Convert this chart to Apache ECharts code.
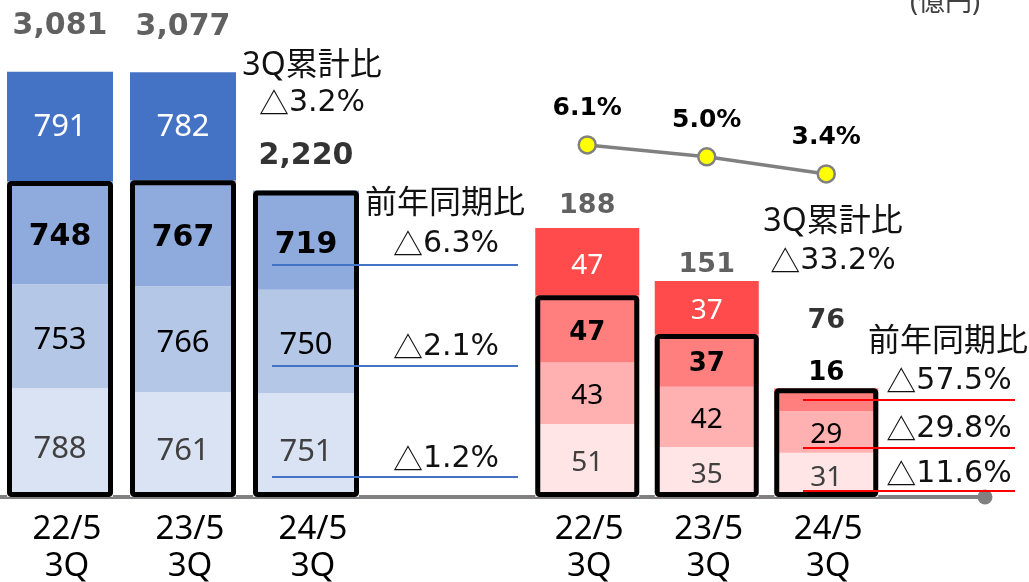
<!DOCTYPE html>
<html>
<head>
<meta charset="utf-8">
<script src="https://cdn.jsdelivr.net/npm/echarts@6/dist/echarts.min.js"></script>
<style>
  html, body { margin: 0; padding: 0; background: #fff; }
  #chart { width: 1029px; height: 582px; }
</style>
</head>
<body>
<div id="chart"></div>
<script>
// data (億円)
var categories = ['22/5\n3Q', '23/5\n3Q', '24/5\n3Q'];
var salesQ1 = [788, 761, 751];
var salesQ2 = [753, 766, 750];
var salesQ3 = [748, 767, 719];
var salesQ4 = [791, 782, null];
var salesTotal = [3081, 3077, 2220];
var profitQ1 = [51, 35, 31];
var profitQ2 = [43, 42, 29];
var profitQ3 = [47, 37, 16];
var profitQ4 = [47, 37, null];
var profitTotal = [188, 151, 76];
var margin = [6.1, 5.0, 3.4];

var FONT = '"Noto Sans", "Noto Sans CJK JP", sans-serif';
var BOLD = '"DejaVu Sans", "Noto Sans CJK JP", sans-serif';
var CJK = '"Noto Sans CJK JP", sans-serif';

var sum3 = function(a, b, c) {
  return a.map(function(v, i) { return v + b[i] + c[i]; });
};

var segLabel = function(color, size, bold, dy) {
  return {
    show: true,
    position: 'inside',
    offset: [0, dy],
    color: color,
    fontSize: size,
    fontFamily: bold ? BOLD : FONT,
    fontWeight: bold ? 'bold' : 'normal'
  };
};

var stackBar = function(name, stack, data, color, label, xi, yi, width) {
  return {
    name: name, type: 'bar', stack: stack, data: data,
    xAxisIndex: xi, yAxisIndex: yi, barWidth: width, barGap: '-100%',
    itemStyle: { color: color }, label: label, silent: true
  };
};

var outlineBar = function(data, xi, yi, width) {
  return {
    type: 'bar', data: data, xAxisIndex: xi, yAxisIndex: yi,
    barWidth: width, barGap: '-100%', z: 3, silent: true,
    itemStyle: { color: 'rgba(0,0,0,0)', borderColor: '#000', borderWidth: 5, borderRadius: 2 }
  };
};

var totalLabels = function(values, dy, colors, size, xi, yi) {
  return {
    type: 'scatter', xAxisIndex: xi, yAxisIndex: yi, symbolSize: 1, z: 4, silent: true,
    itemStyle: { color: 'rgba(0,0,0,0)' },
    data: values.map(function(v, i) {
      return { value: v, label: { offset: [0, dy[i]], color: colors[i] } };
    }),
    label: {
      show: true, position: 'inside', fontSize: size, fontFamily: BOLD, fontWeight: 'bold',
      formatter: function(p) { return p.value.toLocaleString('en-US'); }
    }
  };
};

var note = function(text, x, y, size, color) {
  return {
    type: 'text', x: x, y: y, z: 10, silent: true,
    style: {
      text: text, fill: color || '#111', font: 'normal ' + (size || 32) + 'px ' + FONT,
      align: 'center', verticalAlign: 'middle'
    }
  };
};

// "△x.x%" lines: triangle from the CJK font, figures in a wide sans
var delta = function(text, x, y) {
  return {
    type: 'text', x: x, y: y, z: 10, silent: true,
    style: {
      text: '{t|△}{n|' + text + '}', align: 'center', verticalAlign: 'middle',
      rich: {
        t: { fontFamily: CJK, fontSize: 30, fill: '#111' },
        n: { fontFamily: '"DejaVu Sans", sans-serif', fontSize: 30, fill: '#111' }
      }
    }
  };
};

var rule = function(x1, x2, y, color, w) {
  return {
    type: 'line', z: 10, silent: true,
    shape: { x1: x1, y1: y, x2: x2, y2: y },
    style: { stroke: color, lineWidth: w }
  };
};

var chart = echarts.init(document.getElementById('chart'));

var catAxis = function(gi, pad) {
  return {
    type: 'category', gridIndex: gi, data: categories,
    axisLine: { show: false }, axisTick: { show: false },
    axisLabel: {
      color: '#000', fontSize: 33, lineHeight: 37, margin: 14, fontFamily: FONT,
      padding: [0, 0, 0, pad]
    }
  };
};

var option = {
  animation: false,
  backgroundColor: '#fff',
  grid: [
    { left: -1.5, width: 369, top: 0, height: 497, outerBoundsMode: 'none' },
    { left: 527.5, width: 358.5, top: 10.5, height: 486.5, outerBoundsMode: 'none' },
    { left: 0, right: 44, top: 0, height: 497, outerBoundsMode: 'none' }
  ],
  xAxis: [
    catAxis(0, 14),
    catAxis(1, 4),
    {
      type: 'value', gridIndex: 2, min: 0, max: 1, position: 'bottom',
      axisLine: {
        show: true, onZero: false, symbol: ['none', 'circle'], symbolSize: [15, 15],
        lineStyle: { color: '#808080', width: 4 }
      },
      axisTick: { show: false }, axisLabel: { show: false }, splitLine: { show: false }
    }
  ],
  yAxis: [
    { type: 'value', gridIndex: 0, min: 0, max: 3600, show: false },
    { type: 'value', gridIndex: 1, min: 0, max: 340, show: false },
    { type: 'value', gridIndex: 1, min: -26.68, max: 18.62, show: false },
    { type: 'value', gridIndex: 2, min: 0, max: 1, show: false }
  ],
  series: [
    stackBar('1Q', 'sales', salesQ1, '#DAE3F3', segLabel('#404040', 31, false, 7), 0, 0, 106),
    stackBar('2Q', 'sales', salesQ2, '#B4C7E7', segLabel('#000', 31, false, 4), 0, 0, 106),
    stackBar('3Q', 'sales', salesQ3, '#8FAADC', segLabel('#000', 30, true, 5), 0, 0, 106),
    stackBar('4Q', 'sales', salesQ4, '#4472C4', segLabel('#fff', 31, false, 1), 0, 0, 106),
    outlineBar(sum3(salesQ1, salesQ2, salesQ3), 0, 0, 106),
    totalLabels(salesTotal, [-45, -45, -34], ['#3a3a3a', '#3a3a3a', '#000'], 30, 0, 0),

    stackBar('1Q', 'profit', profitQ1, '#FFE5E5', segLabel('#404040', 28, false, 3), 1, 1, 104),
    stackBar('2Q', 'profit', profitQ2, '#FFB1B1', segLabel('#000', 28, false, 3), 1, 1, 104),
    stackBar('3Q', 'profit', profitQ3.map(function(v, i) {
      // the last segment is too thin, its label sits on top
      return i === 2 ? { value: v, label: { position: 'top', distance: 2, offset: [0, 0] } } : v;
    }), '#FF7F7F', segLabel('#000', 26, true, 4), 1, 1, 104),
    stackBar('4Q', 'profit', profitQ4, '#FF4B4B', segLabel('#fff', 28, false, 4), 1, 1, 104),
    outlineBar(sum3(profitQ1, profitQ2, profitQ3), 1, 1, 104),
    totalLabels(profitTotal, [-22, -16, -67], ['#3a3a3a', '#3a3a3a', '#000'], 27, 1, 1),

    {
      type: 'line', data: margin, xAxisIndex: 1, yAxisIndex: 2, z: 5, silent: true,
      symbol: 'circle', symbolSize: 17,
      lineStyle: { color: '#808080', width: 3.5 },
      itemStyle: { color: '#FFFF00', borderColor: '#808080', borderWidth: 2.5 },
      label: {
        show: true, position: 'top', distance: 14, color: '#000',
        fontSize: 25, fontFamily: BOLD, fontWeight: 'bold',
        formatter: function(p) { return p.value.toFixed(1) + '%'; }
      }
    },
    { type: 'line', data: [], xAxisIndex: 2, yAxisIndex: 3 }
  ],
  graphic: [
    note('3Q累計比', 312, 66),
    delta('3.2%', 312, 103),
    note('前年同期比', 445, 204),
    delta('6.3%', 446, 244),
    delta('2.1%', 446, 347),
    delta('1.2%', 446, 459),
    rule(272, 518, 265, '#4472C4', 2),
    rule(272, 518, 366, '#4472C4', 2),
    rule(272, 518, 477, '#4472C4', 2),

    note('3Q累計比', 833, 222),
    delta('33.2%', 833, 261),
    note('前年同期比', 948, 342),
    delta('57.5%', 949, 381),
    delta('29.8%', 949, 429),
    delta('11.6%', 949, 474),
    rule(803, 1015, 400, '#FF0000', 2),
    rule(803, 1015, 448, '#FF0000', 2),
    rule(803, 1015, 491, '#FF0000', 2),

    note('(億円)', 945, 3, 27, '#404040')
  ]
};

option && chart.setOption(option);
</script>
</body>
</html>
